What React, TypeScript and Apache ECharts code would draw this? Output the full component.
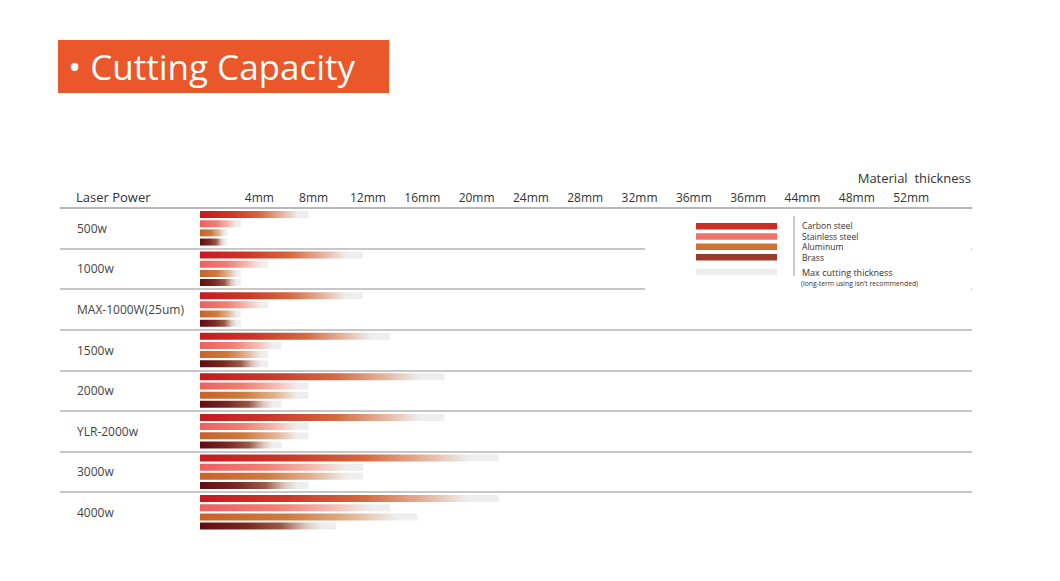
import React, { useEffect, useRef } from "react";
import * as echarts from "echarts";

const categories = ["500w", "1000w", "MAX-1000W(25um)", "1500w", "2000w", "YLR-2000w", "3000w", "4000w"];
const carbonSteel = [8, 12, 12, 14, 18, 18, 22, 22];
const stainlessSteel = [3, 5, 5, 6, 8, 8, 12, 14];
const aluminum = [2, 3, 3, 5, 8, 8, 12, 16];
const brass = [2, 3, 3, 5, 6, 6, 8, 10];
const tickValues = [4, 8, 12, 16, 20, 24, 28, 32, 36, 40, 44, 48, 52];
const tickLabels = ["4mm", "8mm", "12mm", "16mm", "20mm", "24mm", "28mm", "32mm", "36mm", "36mm", "44mm", "48mm", "52mm"];
const materials = ["Carbon steel", "Stainless steel", "Aluminum", "Brass"];
const legendColors = ["#c92d25", "#ef7169", "#cf7236", "#9b3b2d"];
const maxLabel = "Max cutting thickness";
const maxNote = "(long-term using isn't recommended)";
const maxColor = "#ededed";

const gradients = [
  [[0, "#c7181f"], [0.3, "#cb3a2a"], [0.55, "#d4693f"], [0.75, "#e6b29b"], [0.9, "#eeeeee"], [1, "#eeeeee"]],
  [[0, "#ee5f5f"], [0.4, "#f07f74"], [0.7, "#f5bdb2"], [0.9, "#eeeeee"], [1, "#eeeeee"]],
  [[0, "#c7622a"], [0.4, "#cd7a3e"], [0.7, "#e2b594"], [0.9, "#eeeeee"], [1, "#eeeeee"]],
  [[0, "#5f0d12"], [0.35, "#7a2a24"], [0.6, "#9a5a48"], [0.78, "#dcc8c0"], [0.9, "#eeeeee"], [1, "#eeeeee"]],
];

const FONT = "'Open Sans', 'Noto Sans', sans-serif";

export default function App() {
  const ref = useRef<HTMLDivElement>(null);
  useEffect(() => {
    if (!ref.current) return;
    const chart = echarts.init(ref.current, null, { renderer: "svg" });
    const seriesData = [carbonSteel, stainlessSteel, aluminum, brass];
    const sepColors = categories.map(() => "#b5b5b5").concat(["rgba(0,0,0,0)"]);

    const Z = 100;
    const legendChildren: any[] = [
      { type: "rect", z: Z, shape: { x: 645, y: 212, width: 326, height: 80 }, style: { fill: "#ffffff" } },
    ];
    const rectYs = [223, 233.3, 243.5, 254, 268.7];
    const textYs = [226.2, 236.7, 247.2, 257.7, 272];
    materials.forEach((m, i) => {
      legendChildren.push({ type: "rect", z: Z + 1, shape: { x: 696, y: rectYs[i], width: 81, height: 6.5 }, style: { fill: legendColors[i] } });
      legendChildren.push({ type: "text", z: Z + 1, x: 802, y: textYs[i], style: { text: m, fill: "#333", font: `8.6px ${FONT}`, verticalAlign: "middle", lineHeight: 8.6 } });
    });
    legendChildren.push({ type: "rect", z: Z + 1, shape: { x: 696, y: rectYs[4], width: 81, height: 6.5 }, style: { fill: maxColor } });
    legendChildren.push({ type: "text", z: Z + 1, x: 802, y: textYs[4], style: { text: maxLabel, fill: "#333", font: `9px ${FONT}`, verticalAlign: "middle", lineHeight: 9 } });
    legendChildren.push({ type: "text", z: Z + 1, x: 801, y: 283, style: { text: maxNote, fill: "#333", font: `6.8px ${FONT}`, verticalAlign: "middle", lineHeight: 7 } });
    legendChildren.push({ type: "line", z: Z + 1, shape: { x1: 794, y1: 216, x2: 794, y2: 276 }, style: { stroke: "#999", lineWidth: 1 } });

    chart.setOption({
      animation: false,
      title: {
        text: "• Cutting Capacity",
        left: 63,
        top: 44,
        textStyle: { color: "#ffffff", fontSize: 35, fontWeight: "normal", fontFamily: FONT },
        z: 20,
      },
      grid: { left: 60, right: 88, top: 208, height: 324.6 },
      xAxis: {
        type: "value",
        position: "top",
        min: -10.31,
        max: 56.85,
        axisLine: { show: true, lineStyle: { color: "#b5b5b5", width: 1.5 } },
        axisTick: { show: false },
        splitLine: { show: false },
        axisLabel: {
          customValues: tickValues,
          formatter: (v: number) => tickLabels[tickValues.indexOf(v)] ?? "",
          color: "#333",
          fontSize: 12,
          fontFamily: FONT,
          margin: 5,
          padding: [0, 0, 0, 10],
        },
      },
      yAxis: {
        type: "category",
        data: categories,
        inverse: true,
        axisLine: { show: false },
        axisTick: { show: false },
        axisLabel: { inside: true, margin: 17, color: "#444", fontSize: 12, fontFamily: FONT, align: "left" },
        splitLine: { show: true, lineStyle: { color: sepColors, width: 1.5 } },
      },
      series: materials.map((m, i) => ({
        name: m,
        type: "bar",
        data: seriesData[i],
        barWidth: 7,
        barGap: "31%",
        itemStyle: {
          color: new echarts.graphic.LinearGradient(0, 0, 1, 0, gradients[i].map(([o, c]) => ({ offset: o as number, color: c as string }))),
        },
      })),
      graphic: [
        { type: "rect", shape: { x: 58, y: 40, width: 331, height: 53 }, style: { fill: "#e9572b" }, z: 10 },
        { type: "text", x: 76, y: 197, style: { text: "Laser Power", fill: "#333", font: `13px ${FONT}`, verticalAlign: "middle" } },
        { type: "text", x: 971, y: 178, style: { text: "Material  thickness", fill: "#333", font: `13px ${FONT}`, verticalAlign: "middle", align: "right" } },
        { type: "group", children: legendChildren },
      ],
    });
    return () => chart.dispose();
  }, []);
  return <div ref={ref} style={{ position: "absolute", left: 0, top: 0, width: 1060, height: 581 }} />;
}
